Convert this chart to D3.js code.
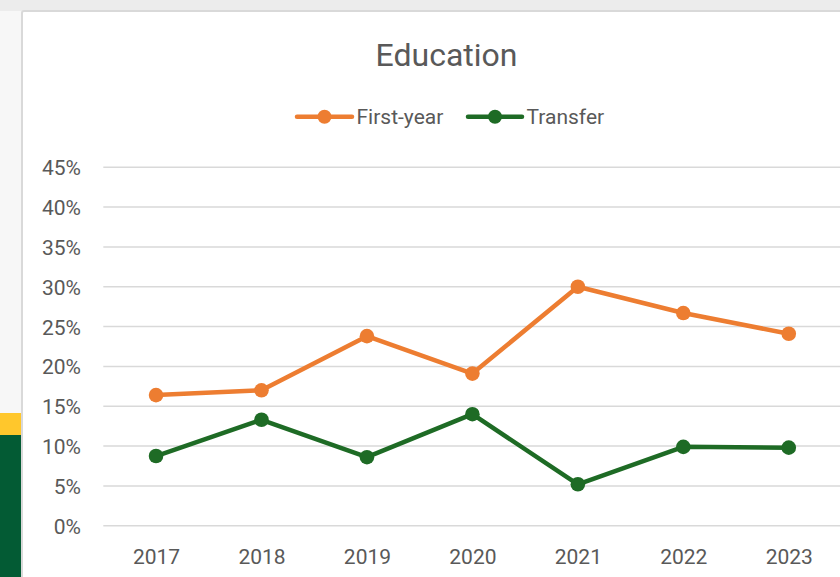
<!DOCTYPE html>
<html>
<head>
<meta charset="utf-8">
<script src="https://cdn.jsdelivr.net/npm/d3@7"></script>
<style>
html,body{margin:0;padding:0;background:#f7f7f7;overflow:hidden;}
svg{display:block;}
</style>
</head>
<body>
<svg id="chart" width="840" height="577"></svg>
<script>
const years = ["2017","2018","2019","2020","2021","2022","2023"];
const firstYear = [0.164, 0.170, 0.238, 0.191, 0.300, 0.267, 0.241];
const transfer = [0.0875, 0.133, 0.086, 0.140, 0.052, 0.099, 0.098];
const yTicks = [0, 0.05, 0.10, 0.15, 0.20, 0.25, 0.30, 0.35, 0.40, 0.45];
const seriesNames = ["First-year", "Transfer"];
const seriesColors = ["#ED7D31", "#1E6B25"];

const svg = d3.select("#chart");
const textColor = "#595959";
const font = "Roboto, 'Liberation Sans', Arial, sans-serif";

// page background pieces
svg.append("rect").attr("x",0).attr("y",0).attr("width",840).attr("height",577).attr("fill","#f7f7f7");
svg.append("rect").attr("x",0).attr("y",0).attr("width",840).attr("height",11).attr("fill","#ececec");
svg.append("rect").attr("x",0).attr("y",413).attr("width",22).attr("height",22).attr("fill","#FFC72C");
svg.append("rect").attr("x",0).attr("y",435).attr("width",22).attr("height",142).attr("fill","#035B34");

// chart box
svg.append("rect").attr("x",22).attr("y",11).attr("width",840).attr("height",600)
  .attr("rx",2).attr("fill","#ffffff").attr("stroke","#d9d9d9").attr("stroke-width",2);

const x = d3.scalePoint().domain(years).range([103.3, 841.5]).padding(0.5);
const y = d3.scaleLinear().domain([0, 0.45]).range([525.7, 167.3]);

// gridlines
const grid = svg.append("g");
grid.selectAll("line").data(yTicks).join("line")
  .attr("x1",103.3).attr("x2",842)
  .attr("y1",d=>y(d)).attr("y2",d=>y(d))
  .attr("stroke","#d9d9d9").attr("stroke-width",1.5);

// y axis labels
const yAxis = d3.axisLeft(y).tickValues(yTicks).tickFormat(d3.format(".0%")).tickSize(0).tickPadding(0);
const gy = svg.append("g").attr("transform","translate(81,0)").call(yAxis);
gy.select(".domain").remove();
gy.selectAll("text").attr("fill",textColor).attr("font-family",font).attr("font-size","21px").attr("dy","0.36em");

// x axis labels
const xAxis = d3.axisBottom(x).tickSize(0).tickPadding(0);
const gx = svg.append("g").attr("transform","translate(0,564)").call(xAxis);
gx.select(".domain").remove();
gx.selectAll("text").attr("fill",textColor).attr("font-family",font).attr("font-size","21px").attr("dy","0");

// title
svg.append("text").attr("x",446.5).attr("y",65.5).attr("text-anchor","middle")
  .attr("fill",textColor).attr("font-family",font).attr("font-size","32px").text("Education");

// series
const allSeries = [firstYear, transfer];
const line = d3.line().x((d,i)=>x(years[i])).y(d=>y(d));
allSeries.forEach((vals, si) => {
  const g = svg.append("g");
  g.append("path").datum(vals).attr("d", line).attr("fill","none")
    .attr("stroke", seriesColors[si]).attr("stroke-width",4.5).attr("stroke-linejoin","round").attr("stroke-linecap","round");
  g.selectAll("circle").data(vals).join("circle")
    .attr("cx",(d,i)=>x(years[i])).attr("cy",d=>y(d)).attr("r",7.3).attr("fill",seriesColors[si]);
});

// legend
const legendItems = [
  {name: seriesNames[0], color: seriesColors[0], x0: 297, x1: 352, tx: 356.5},
  {name: seriesNames[1], color: seriesColors[1], x0: 468, x1: 522, tx: 526.5}
];
const lg = svg.append("g");
legendItems.forEach(it => {
  lg.append("line").attr("x1",it.x0).attr("x2",it.x1).attr("y1",116.7).attr("y2",116.7)
    .attr("stroke",it.color).attr("stroke-width",4.5).attr("stroke-linecap","round");
  lg.append("circle").attr("cx",(it.x0+it.x1)/2).attr("cy",116.7).attr("r",7).attr("fill",it.color);
  lg.append("text").attr("x",it.tx).attr("y",124.3).attr("fill",textColor)
    .attr("font-family",font).attr("font-size","21px").text(it.name);
});
</script>
</body>
</html>
